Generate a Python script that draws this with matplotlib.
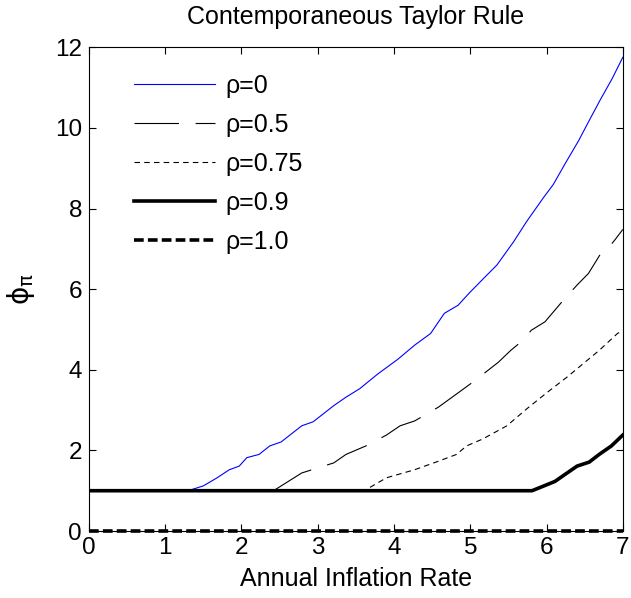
import numpy as np
import matplotlib
matplotlib.use("Agg")
import matplotlib.pyplot as plt

plt.rcParams['font.family'] = ['Liberation Sans', 'DejaVu Sans']
plt.rcParams['lines.scale_dashes'] = False
plt.rcParams['mathtext.fontset'] = 'custom'
plt.rcParams['mathtext.rm'] = 'DejaVu Sans'
plt.rcParams['mathtext.it'] = 'DejaVu Sans'

# rho = 0 (blue)
x_r0 = [0, 1.3, 1.5, 1.68, 1.84, 1.97, 2.07, 2.23, 2.37, 2.52, 2.79, 2.94, 3.21, 3.37,
        3.55, 3.79, 4.05, 4.27, 4.48, 4.66, 4.84, 4.98, 5.13, 5.35, 5.57, 5.74, 5.96,
        6.09, 6.24, 6.42, 6.57, 6.70, 6.86, 7.0]
y_r0 = [1.0, 1.0, 1.12, 1.32, 1.52, 1.61, 1.82, 1.9, 2.11, 2.21, 2.61, 2.71, 3.11, 3.32,
        3.53, 3.9, 4.26, 4.61, 4.9, 5.4, 5.6, 5.89, 6.18, 6.6, 7.18, 7.68, 8.27,
        8.6, 9.1, 9.68, 10.22, 10.68, 11.22, 11.75]

# rho = 0.5
x_r05 = [0, 2.42, 2.79, 3.21, 3.37, 3.63, 3.90, 4.08, 4.27, 4.58, 4.85, 5.06, 5.37,
         5.53, 5.69, 5.80, 5.98, 6.11, 6.24, 6.40, 6.55, 6.70, 6.77, 6.90, 7.0]
y_r05 = [1.0, 1.0, 1.44, 1.69, 1.9, 2.11, 2.38, 2.61, 2.73, 3.07, 3.44, 3.73, 4.19,
         4.48, 4.73, 4.98, 5.19, 5.48, 5.77, 6.1, 6.39, 6.85, 6.93, 7.23, 7.48]

# rho = 0.75
x_r075 = [0, 3.61, 3.90, 4.27, 4.58, 4.82, 4.95, 5.16, 5.48, 5.74, 6.01, 6.27, 6.48,
          6.69, 6.93, 7.0]
y_r075 = [1.0, 1.0, 1.32, 1.52, 1.73, 1.9, 2.11, 2.28, 2.61, 3.03, 3.44, 3.82, 4.15,
          4.48, 4.9, 4.97]

# rho = 0.9
x_r09 = [0, 5.81, 5.98, 6.11, 6.27, 6.40, 6.56, 6.69, 6.85, 7.0]
y_r09 = [1.0, 1.0, 1.13, 1.23, 1.44, 1.61, 1.71, 1.9, 2.11, 2.38]

# rho = 1.0
x_r1 = [0, 7]
y_r1 = [0, 0]

fig = plt.figure(figsize=(6.31, 5.98), dpi=100)
ax = fig.add_axes([0.141, 0.112, 0.846, 0.809])

ax.plot(x_r0, y_r0, color='#0000ff', lw=0.8, label='ρ=0')
ax.plot(x_r05, y_r05, color='black', lw=0.8, dashes=(32, 12), label='ρ=0.5')
ax.plot(x_r075, y_r075, color='black', lw=0.8, dashes=(4, 3), label='ρ=0.75')
ax.plot(x_r09, y_r09, color='black', lw=2.6, label='ρ=0.9')
ax.plot(x_r1, y_r1, color='black', lw=2.6, dashes=(7, 3), label='ρ=1.0',
        clip_on=False, zorder=5)

ax.set_xlim(0, 7)
ax.set_ylim(0, 12)
ax.set_xticks(range(0, 8))
ax.set_yticks(range(0, 13, 2))
ax.tick_params(direction='in', top=True, right=True, length=5, labelsize=17.5)
ax.tick_params(axis='x', pad=4)
ax.tick_params(axis='y', pad=5)

ax.set_title('Contemporaneous Taylor Rule', fontsize=18, pad=17)
ax.set_xlabel('Annual Inflation Rate', fontsize=18, labelpad=6)
ax.set_ylabel(r'$\phi_\pi$', fontsize=20, labelpad=13)

ax.legend(loc='upper left', bbox_to_anchor=(0.084, 0.945), frameon=False,
          fontsize=18, handlelength=3.25, handletextpad=0.4, labelspacing=0.6,
          borderpad=0, borderaxespad=0)

fig.savefig('out.png', dpi=100)
